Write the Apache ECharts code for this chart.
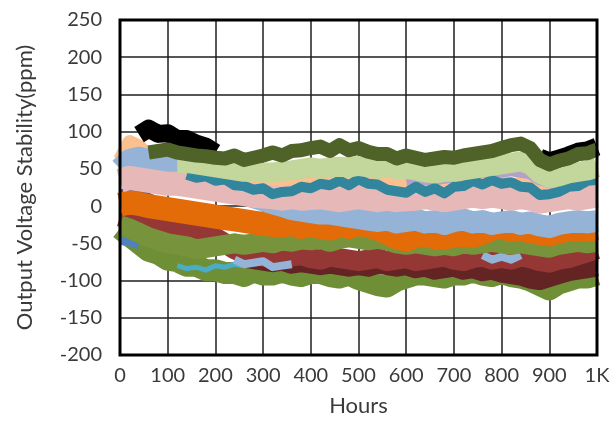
<!DOCTYPE html>
<html>
<head>
<meta charset="utf-8">
<script src="https://cdn.jsdelivr.net/npm/echarts@6/dist/echarts.min.js"></script>
<style>
  html, body { margin: 0; padding: 0; background: #fff; }
  #chart { width: 613px; height: 428px; }
</style>
</head>
<body>
<div id="chart"></div>
<script>
// sample hours (x axis)
const hours = [0, 20, 40, 60, 80, 100, 120, 140, 160, 180, 200, 220, 240, 260, 280, 300, 320, 340, 360, 380,
  400, 420, 440, 460, 480, 500, 520, 540, 560, 580, 600, 620, 640, 660, 680, 700, 720, 740, 760, 780,
  800, 820, 840, 860, 880, 900, 920, 940, 960, 980, 1000];

// readings in ppm, one list per unit (null = not shown)
const black = [null, null, 96, 104, 97, 98, 90, 90, 84, 80, 72, null, null, null, null, null, null, null, null, null,
  null, null, null, null, null, null, null, null, null, null, null, null, null, null, null, null, null, null, null, null,
  null, null, null, null, 65, 60, 64, 68, 73, 75, 80];
const olive = [null, null, null, 72, 74, 76, 72, 70, 68, 67, 65, 64, 68, 62, 65, 68, 72, 68, 74, 75,
  78, 80, 74, 82, 75, 78, 73, 70, 70, 64, 68, 65, 62, 64, 66, 65, 68, 70, 72, 74,
  78, 82, 84, 78, 62, 56, 61, 64, 70, 71, 76];
const lightGreen = [null, null, null, null, null, null, 58, 58, 56, 54, 52, 50, 48, 46, 46, 45, 45, 47, 48, 50,
  52, 50, 52, 53, 52, 54, 52, 50, 52, 50, 50, 48, 45, 44, 46, 46, 48, 50, 52, 54,
  56, 58, 60, 56, 44, 38, 40, 44, 46, 48, 52];
const teal = [null, null, null, null, null, null, null, 42, 38, 40, 34, 36, 28, 27, 22, 24, 16, 19, 20, 26,
  24, 30, 28, 34, 28, 36, 30, 29, 22, 20, 18, 26, 19, 24, 17, 26, 27, 34, 29, 35,
  30, 32, 26, 25, 15, 16, 19, 26, 27, 34, 35];
const lavender = [null, null, null, null, null, null, null, null, null, null, null, null, null, null, null, null, null, null, null, null,
  null, null, null, null, null, null, null, null, null, null, 34, 36, 34, 36, 38, 40, 42, 44, 46, 48,
  46, 48, 46, 44, 36, 32, 38, 42, 46, 48, 52];
const lightOrange = [62, 86, 80, 66, 56, 50, 46, 43, 40, 38, 36, 34, 32, 30, 30, 28, 28, 30, 30, 32,
  30, 32, 30, 34, 32, 30, 34, 36, 32, 30, 28, 32, 30, 34, 28, 30, 30, 32, 30, 28,
  30, 28, 30, 28, 26, 24, 26, 28, 30, 32, 34];
const pink = [34, 38, 36, 34, 32, 30, 30, 28, 26, 24, 22, 20, 18, 16, 14, 13, 12, 10, 12, 10,
  11, 12, 10, 8, 10, 12, 10, 8, 10, 8, 9, 10, 12, 10, 8, 10, 12, 14, 12, 14,
  12, 10, 12, 10, 6, 8, 10, 12, 10, 12, 14];
const lightBlue = [50, 62, 65, 62, 58, 55, 50, 45, 40, 36, 32, 28, 20, 16, 12, 8, 4, 0, -4, -6,
  -8, -10, -10, -12, -14, -16, -18, -20, -18, -22, -20, -18, -22, -20, -24, -20, -18, -22, -20, -24,
  -22, -20, -24, -22, -26, -28, -24, -22, -20, -22, -20];
const orange = [2, 5, 3, 0, -2, -4, -6, -8, -10, -12, -14, -16, -18, -20, -22, -24, -25, -26, -24, -28,
  -26, -28, -30, -26, -28, -24, -26, -30, -36, -42, -45, -40, -38, -42, -42, -40, -38, -40, -36, -30,
  -28, -32, -30, -34, -36, -38, -34, -32, -30, -32, -30];
const purple = [18, 22, 20, 14, 8, 4, 0, -4, -8, -10, -14, -16, -18, -20, -22, -24, -25, -26, -27, -28,
  -28, -30, -30, -30, -30, -28, -30, -32, -34, -36, -36, -34, -32, -34, -32, -30, -30, -32, -30, -28,
  -30, -32, -30, -28, -30, -32, -30, -28, -30, -28, -26];
const greenMid = [-26, -30, -36, -42, -46, -50, -52, -54, -58, -56, -54, -52, -50, -52, -50, -48, -50, -46, -48, -45,
  -46, -44, -48, -44, -42, -44, -46, -44, -46, -50, -52, -50, -52, -54, -52, -54, -50, -52, -50, -48,
  -50, -52, -50, -52, -54, -56, -52, -50, -48, -50, -48];
const darkRed = [-14, -18, -22, -26, -28, -30, -34, -38, -36, -38, -42, -50, -58, -64, -66, -68, -66, -70, -68, -66,
  -70, -72, -68, -70, -72, -74, -72, -70, -74, -72, -70, -74, -72, -70, -68, -72, -74, -70, -68, -72,
  -70, -72, -68, -70, -74, -76, -72, -70, -66, -62, -58];
const lightBlue2 = [null, null, null, null, null, null, null, null, null, null, null, null, -72, -78, -76, -74, -82, -80, -78, null,
  null, null, null, null, null, null, null, null, null, null, null, null, null, null, null, null, null, null, -66, -72,
  -68, -72, -66, null, null, null, null, null, null, null, null];
const maroon = [null, null, null, null, null, null, null, null, null, null, null, null, null, -68, -70, -72, -74, -72, -76, -74,
  -76, -78, -76, -78, -80, -78, -80, -76, -78, -80, -78, -82, -80, -84, -82, -80, -84, -82, -86, -84,
  -88, -90, -92, -96, -98, -94, -90, -86, -84, -82, -80];
const lowerGreen = [-30, -40, -50, -60, -64, -72, -74, -80, -80, -86, -86, -90, -90, -94, -88, -92, -92, -88, -92, -94,
  -90, -90, -94, -96, -92, -98, -102, -106, -108, -100, -96, -92, -92, -94, -96, -92, -92, -88, -92, -94,
  -90, -94, -96, -100, -106, -112, -104, -100, -96, -96, -92];
const cyan = [null, null, null, null, null, null, -80, -84, -82, -86, -80, -82, -78, -80, null, null, null, null, null, null,
  null, null, null, null, null, null, null, null, null, null, null, null, null, null, null, null, null, null, null, null,
  null, null, null, null, null, null, null, null, null, null, null];
const blue = [-44, -46, -50, null, null, null, null, null, null, null, null, null, null, null, null, null, null, null, null, null,
  null, null, null, null, null, null, null, null, null, null, null, null, null, null, null, null, null, null, null, null,
  null, null, null, null, null, null, null, null, null, null, null];

function pairs(vals) {
  return hours.map((h, i) => [h, vals[i] == null ? '-' : vals[i]]);
}

function band(name, color, vals, width) {
  return {
    name: name,
    type: 'line',
    data: pairs(vals),
    symbol: 'none',
    silent: true,
    color: color,
    lineStyle: { color: color, width: width, join: 'round', cap: 'butt' }
  };
}

const chart = echarts.init(document.getElementById('chart'));
const textColor = '#3a3a3a';

chart.setOption({
  animation: false,
  backgroundColor: '#fff',
  grid: {
    left: 120, right: 16, top: 20, bottom: 73,
    show: true, borderColor: '#000', borderWidth: 3,
    backgroundColor: 'transparent', z: 10
  },
  xAxis: {
    type: 'value', min: 0, max: 1000, interval: 100,
    name: 'Hours', nameLocation: 'middle', nameGap: 40,
    nameTextStyle: { fontFamily: 'Lato', fontSize: 22, color: textColor },
    axisLine: { show: false },
    axisTick: { show: false },
    axisLabel: {
      margin: 11, fontFamily: 'Lato', fontSize: 20, color: textColor,
      formatter: v => (v === 1000 ? '1K' : String(v))
    },
    splitLine: { show: true, lineStyle: { color: '#1e1e1e', width: 1.5 } }
  },
  yAxis: {
    type: 'value', min: -200, max: 250, interval: 50,
    name: 'Output Voltage Stability(ppm)', nameLocation: 'middle', nameGap: 84,
    nameTextStyle: { fontFamily: 'Lato', fontSize: 22, color: textColor },
    axisLine: { show: false },
    axisTick: { show: false },
    axisLabel: { margin: 18, fontFamily: 'Lato', fontSize: 20, color: textColor },
    splitLine: { show: true, lineStyle: { color: '#1e1e1e', width: 1.5 } }
  },
  series: [
    band('U15', '#6f8f37', lowerGreen, 22),
    band('U16', '#4bacc6', cyan, 5),
    band('U17', '#4f81bd', blue, 12),
    band('U14', '#632423', maroon, 22),
    band('U13', '#953735', darkRed, 20),
    band('U18', '#95b3d7', lightBlue2, 8),
    band('U12', '#77933c', greenMid, 20),
    band('U11', '#604a7b', purple, 6),
    band('U10', '#e36c09', orange, 24),
    band('U9', '#fac090', lightOrange, 14),
    band('U8', '#b3a2c7', lavender, 12),
    band('U7', '#95b3d7', lightBlue, 22),
    band('U6', '#e6b9b8', pink, 24),
    band('U5', '#31859c', teal, 10),
    band('U4', '#c3d69b', lightGreen, 20),
    band('U3', '#000000', black, 18),
    band('U2', '#4f6228', olive, 14)
  ]
});
</script>
</body>
</html>
